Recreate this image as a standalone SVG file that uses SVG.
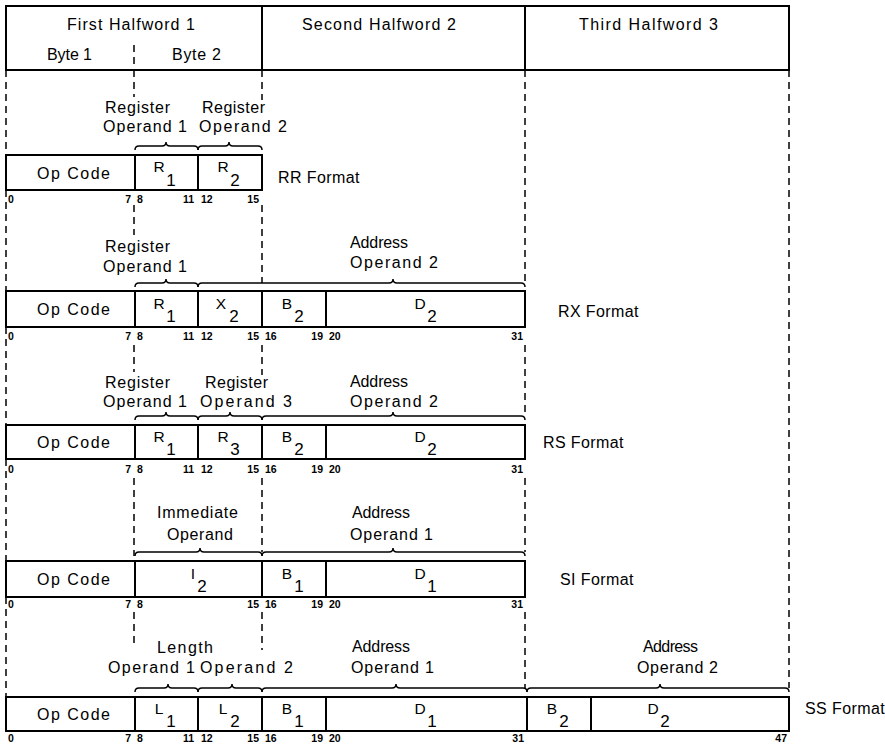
<svg xmlns="http://www.w3.org/2000/svg" width="885" height="747" viewBox="0 0 885 747">
<style>
.box{fill:none;stroke:#000;stroke-width:2}
.ln{stroke:#000;stroke-width:2}
.dash{stroke:#000;stroke-width:1.5;stroke-dasharray:7 5;fill:none}
.brace{fill:none;stroke:#000;stroke-width:1.5}
text{font-family:"Liberation Sans",Arial,sans-serif;fill:#000}
.t{font-size:16px}
.h{font-size:16px}
.f{font-size:16px;letter-spacing:0.4px}
.l{font-size:15.5px;text-anchor:middle}
.s{font-size:17px;text-anchor:middle}
.b{font-size:10.5px;font-weight:bold}
.e{text-anchor:end}
</style>
<rect width="885" height="747" fill="#fff"/>

<g id="header">
<rect class="box" x="6" y="6" width="783" height="64"/>
<line class="ln" x1="262" y1="6" x2="262" y2="70"/>
<line class="ln" x1="525" y1="6" x2="525" y2="70"/>
<line class="dash" x1="134" y1="45" x2="134" y2="70"/>
<text class="h" x="67" y="30" textLength="128" lengthAdjust="spacing">First Halfword 1</text>
<text class="t" x="47" y="60" textLength="45" lengthAdjust="spacing">Byte 1</text>
<text class="t" x="172" y="60" textLength="49" lengthAdjust="spacing">Byte 2</text>
<text class="h" x="302" y="30" textLength="154" lengthAdjust="spacing">Second Halfword 2</text>
<text class="h" x="579" y="30" textLength="139" lengthAdjust="spacing">Third Halfword 3</text>
</g>

<g id="connectors">
<path class="dash" d="M6 70V155M6 190V291M6 327V425M6 459V561M6 597V697"/>
<path class="dash" d="M134 70V97M134 205V235M134 345V372M134 478V556M134 612V647"/>
<path class="dash" d="M262 70V100M262 205V283M262 345V375M262 478V552M262 612V650"/>
<path class="dash" d="M525 70V283M525 345V416M525 478V552M525 612V688"/>
<path class="dash" d="M789 70V688"/>
</g>

<g id="rr">
<path class="brace" d="M135 150Q135 146 139 146L162 146Q166 146 166 142Q166 146 170 146L194 146Q198 146 198 150"/>
<path class="brace" d="M198 150Q198 146 202 146L225 146Q229 146 229 142Q229 146 233 146L258 146Q262 146 262 150"/>
<text class="t" x="105" y="113" textLength="65" lengthAdjust="spacing">Register</text>
<text class="t" x="103" y="132" textLength="84" lengthAdjust="spacing">Operand 1</text>
<text class="t" x="202" y="113" textLength="63" lengthAdjust="spacing">Register</text>
<text class="t" x="199" y="132" textLength="88" lengthAdjust="spacing">Operand 2</text>
<rect class="box" x="6" y="155" width="256" height="35"/>
<line class="ln" x1="135" y1="155" x2="135" y2="190"/>
<line class="ln" x1="198" y1="155" x2="198" y2="190"/>
<text class="t" x="37" y="179" textLength="73" lengthAdjust="spacing">Op Code</text>
<text class="l" x="159" y="172">R</text><text class="s" x="171" y="186">1</text>
<text class="l" x="223" y="172">R</text><text class="s" x="235" y="186">2</text>
<text class="f" x="278" y="183">RR Format</text>
<text class="b" x="8" y="203">0</text>
<text class="b e" x="131" y="203">7</text><text class="b" x="137" y="203">8</text>
<text class="b e" x="194" y="203">11</text><text class="b" x="201" y="203">12</text>
<text class="b e" x="259" y="203">15</text>
</g>

<g id="rx">
<path class="brace" d="M135 287Q135 283 139 283L162 283Q166 283 166 279Q166 283 170 283L194 283Q198 283 198 287"/>
<path class="brace" d="M198 287Q198 283 202 283L389 283Q393 283 393 279Q393 283 397 283L521 283Q525 283 525 287"/>
<text class="t" x="105" y="252" textLength="65" lengthAdjust="spacing">Register</text>
<text class="t" x="103" y="272" textLength="84" lengthAdjust="spacing">Operand 1</text>
<text class="t" x="350" y="248" textLength="58" lengthAdjust="spacing">Address</text>
<text class="t" x="350" y="268" textLength="88" lengthAdjust="spacing">Operand 2</text>
<rect class="box" x="6" y="291" width="519" height="36"/>
<line class="ln" x1="135" y1="291" x2="135" y2="327"/>
<line class="ln" x1="198" y1="291" x2="198" y2="327"/>
<line class="ln" x1="262" y1="291" x2="262" y2="327"/>
<line class="ln" x1="326" y1="291" x2="326" y2="327"/>
<text class="t" x="37" y="315" textLength="73" lengthAdjust="spacing">Op Code</text>
<text class="l" x="159" y="309">R</text><text class="s" x="171" y="322">1</text>
<text class="l" x="221" y="309">X</text><text class="s" x="234" y="322">2</text>
<text class="l" x="287" y="309">B</text><text class="s" x="299" y="322">2</text>
<text class="l" x="420" y="309">D</text><text class="s" x="432" y="322">2</text>
<text class="f" x="558" y="317">RX Format</text>
<text class="b" x="8" y="340">0</text>
<text class="b e" x="131" y="340">7</text><text class="b" x="137" y="340">8</text>
<text class="b e" x="194" y="340">11</text><text class="b" x="201" y="340">12</text>
<text class="b e" x="259" y="340">15</text><text class="b" x="265" y="340">16</text>
<text class="b e" x="323" y="340">19</text><text class="b" x="329" y="340">20</text>
<text class="b e" x="523" y="340">31</text>
</g>

<g id="rs">
<path class="brace" d="M135 420Q135 416 139 416L162 416Q166 416 166 412Q166 416 170 416L194 416Q198 416 198 420"/>
<path class="brace" d="M198 420Q198 416 202 416L226 416Q230 416 230 412Q230 416 234 416L258 416Q262 416 262 420"/>
<path class="brace" d="M262 420Q262 416 266 416L389 416Q393 416 393 412Q393 416 397 416L521 416Q525 416 525 420"/>
<text class="t" x="105" y="388" textLength="65" lengthAdjust="spacing">Register</text>
<text class="t" x="103" y="407" textLength="84" lengthAdjust="spacing">Operand 1</text>
<text class="t" x="205" y="388" textLength="63" lengthAdjust="spacing">Register</text>
<text class="t" x="200" y="407" textLength="92" lengthAdjust="spacing">Operand 3</text>
<text class="t" x="350" y="387" textLength="58" lengthAdjust="spacing">Address</text>
<text class="t" x="350" y="407" textLength="88" lengthAdjust="spacing">Operand 2</text>
<rect class="box" x="6" y="425" width="519" height="34"/>
<line class="ln" x1="135" y1="425" x2="135" y2="459"/>
<line class="ln" x1="198" y1="425" x2="198" y2="459"/>
<line class="ln" x1="262" y1="425" x2="262" y2="459"/>
<line class="ln" x1="326" y1="425" x2="326" y2="459"/>
<text class="t" x="37" y="448" textLength="73" lengthAdjust="spacing">Op Code</text>
<text class="l" x="159" y="442">R</text><text class="s" x="171" y="455">1</text>
<text class="l" x="223" y="442">R</text><text class="s" x="235" y="455">3</text>
<text class="l" x="287" y="442">B</text><text class="s" x="299" y="455">2</text>
<text class="l" x="420" y="442">D</text><text class="s" x="432" y="455">2</text>
<text class="f" x="543" y="448">RS Format</text>
<text class="b" x="8" y="473">0</text>
<text class="b e" x="131" y="473">7</text><text class="b" x="137" y="473">8</text>
<text class="b e" x="194" y="473">11</text><text class="b" x="201" y="473">12</text>
<text class="b e" x="259" y="473">15</text><text class="b" x="265" y="473">16</text>
<text class="b e" x="323" y="473">19</text><text class="b" x="329" y="473">20</text>
<text class="b e" x="523" y="473">31</text>
</g>

<g id="si">
<path class="brace" d="M135 556Q135 552 139 552L196 552Q200 552 200 548Q200 552 204 552L258 552Q262 552 262 556"/>
<path class="brace" d="M262 556Q262 552 266 552L389 552Q393 552 393 548Q393 552 397 552L521 552Q525 552 525 556"/>
<text class="t" x="157" y="518" textLength="81" lengthAdjust="spacing">Immediate</text>
<text class="t" x="167" y="540" textLength="66" lengthAdjust="spacing">Operand</text>
<text class="t" x="352" y="518" textLength="58" lengthAdjust="spacing">Address</text>
<text class="t" x="350" y="540" textLength="83" lengthAdjust="spacing">Operand 1</text>
<rect class="box" x="6" y="561" width="519" height="36"/>
<line class="ln" x1="135" y1="561" x2="135" y2="597"/>
<line class="ln" x1="262" y1="561" x2="262" y2="597"/>
<line class="ln" x1="326" y1="561" x2="326" y2="597"/>
<text class="t" x="37" y="585" textLength="73" lengthAdjust="spacing">Op Code</text>
<text class="l" x="193" y="579">I</text><text class="s" x="202" y="592">2</text>
<text class="l" x="287" y="579">B</text><text class="s" x="299" y="592">1</text>
<text class="l" x="420" y="579">D</text><text class="s" x="432" y="592">1</text>
<text class="f" x="560" y="585">SI Format</text>
<text class="b" x="8" y="608">0</text>
<text class="b e" x="131" y="608">7</text><text class="b" x="137" y="608">8</text>
<text class="b e" x="259" y="608">15</text><text class="b" x="265" y="608">16</text>
<text class="b e" x="323" y="608">19</text><text class="b" x="329" y="608">20</text>
<text class="b e" x="523" y="608">31</text>
</g>

<g id="ss">
<path class="brace" d="M135 692Q135 688 139 688L164 688Q168 688 168 684Q168 688 172 688L194 688Q198 688 198 692"/>
<path class="brace" d="M198 692Q198 688 202 688L228 688Q232 688 232 684Q232 688 236 688L258 688Q262 688 262 692"/>
<path class="brace" d="M262 692Q262 688 266 688L392 688Q396 688 396 684Q396 688 400 688L523 688Q527 688 527 692"/>
<path class="brace" d="M527 692Q527 688 531 688L656 688Q660 688 660 684Q660 688 664 688L785 688Q789 688 789 692"/>
<text class="t" x="157" y="653" textLength="56" lengthAdjust="spacing">Length</text>
<text class="t" x="108" y="673" textLength="87" lengthAdjust="spacing">Operand 1</text>
<text class="t" x="200" y="673" textLength="93" lengthAdjust="spacing">Operand 2</text>
<text class="t" x="352" y="652" textLength="58" lengthAdjust="spacing">Address</text>
<text class="t" x="351" y="673" textLength="83" lengthAdjust="spacing">Operand 1</text>
<text class="t" x="643" y="652" textLength="55" lengthAdjust="spacing">Address</text>
<text class="t" x="637" y="673" textLength="81" lengthAdjust="spacing">Operand 2</text>
<rect class="box" x="6" y="697" width="783" height="34"/>
<line class="ln" x1="135" y1="697" x2="135" y2="731"/>
<line class="ln" x1="198" y1="697" x2="198" y2="731"/>
<line class="ln" x1="262" y1="697" x2="262" y2="731"/>
<line class="ln" x1="326" y1="697" x2="326" y2="731"/>
<line class="ln" x1="527" y1="697" x2="527" y2="731"/>
<line class="ln" x1="591" y1="697" x2="591" y2="731"/>
<text class="t" x="37" y="720" textLength="73" lengthAdjust="spacing">Op Code</text>
<text class="l" x="159" y="714">L</text><text class="s" x="171" y="727">1</text>
<text class="l" x="223" y="714">L</text><text class="s" x="235" y="727">2</text>
<text class="l" x="287" y="714">B</text><text class="s" x="299" y="727">1</text>
<text class="l" x="420" y="714">D</text><text class="s" x="432" y="727">1</text>
<text class="l" x="552" y="714">B</text><text class="s" x="564" y="727">2</text>
<text class="l" x="653" y="714">D</text><text class="s" x="665" y="727">2</text>
<text class="f" x="805" y="714">SS Format</text>
<text class="b" x="8" y="742">0</text>
<text class="b e" x="131" y="742">7</text><text class="b" x="137" y="742">8</text>
<text class="b e" x="194" y="742">11</text><text class="b" x="201" y="742">12</text>
<text class="b e" x="259" y="742">15</text><text class="b" x="265" y="742">16</text>
<text class="b e" x="323" y="742">19</text><text class="b" x="329" y="742">20</text>
<text class="b e" x="524" y="742">31</text>
<text class="b e" x="787" y="742">47</text>
</g>
</svg>
